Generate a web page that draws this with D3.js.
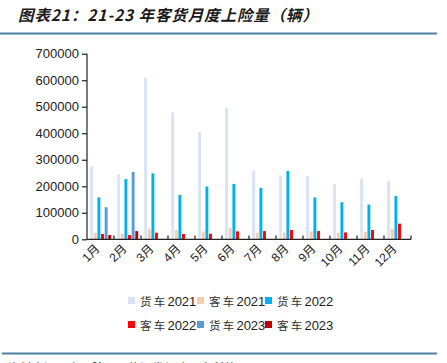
<!DOCTYPE html>
<html><head><meta charset="utf-8">
<script src="https://cdn.jsdelivr.net/npm/d3@7/dist/d3.min.js"></script>
<style>
html,body{margin:0;padding:0;background:#fff;}
svg{display:block;}
</style></head>
<body><svg id="c" width="447" height="363"></svg>
<script>
const months = ["1月","2月","3月","4月","5月","6月","7月","8月","9月","10月","11月","12月"];
const seriesNames = ["货车2021","客车2021","货车2022","客车2022","货车2023","客车2023"];
const truck2021 = [276000,245000,609000,478000,405000,495000,258000,239000,239000,209000,228000,221000];
const bus2021   = [25000,20000,39000,35000,30000,44000,25000,25000,29000,25000,29000,39000];
const truck2022 = [158000,227000,249000,167000,199000,209000,194000,258000,158000,140000,131000,163000];
const bus2022   = [20000,16000,25000,20000,21000,30000,31000,35000,31000,26000,35000,59000];
const truck2023 = [121000,254000,null,null,null,null,null,null,null,null,null,null];
const bus2023   = [16000,31000,null,null,null,null,null,null,null,null,null,null];
const yTicks = [0,100000,200000,300000,400000,500000,600000,700000];
const colors = ["#dae3f3","#f8cbad","#00b0f0","#ff0000","#5b9bd5","#c00000"];
const seriesValues = [truck2021,bus2021,truck2022,bus2022,truck2023,bus2023];

const svg = d3.select("#c");
const font = "'Liberation Sans', Arial, 'Noto Sans CJK SC', sans-serif";

// Title
svg.append("text").attr("x",18).attr("y",21)
  .attr("font-family","'Noto Sans CJK SC', sans-serif")
  .attr("font-size",15.5).attr("font-weight","bold").attr("font-style","italic")
  .attr("letter-spacing",0.9)
  .attr("fill","#1a1a1a")
  .text("图表21：21-23 年客货月度上险量（辆）");
svg.append("line").attr("x1",0).attr("x2",437).attr("y1",33.5).attr("y2",33.5)
  .attr("stroke","#4f7fa0").attr("stroke-width",2);

// Scales
const y = d3.scaleLinear().domain([0,700000]).range([239.3,53.7]);
const x0 = d3.scaleBand().domain(months).range([87,411]).paddingInner(0).paddingOuter(0);
const x1 = d3.scaleBand().domain(seriesNames).range([3.2,24.2]).paddingInner(0.2).paddingOuter(0);

// Bars
const g = svg.append("g");
seriesValues.forEach((vals,si)=>{
  g.selectAll(null).data(vals.map((v,i)=>({m:months[i],v})).filter(d=>d.v!=null))
   .enter().append("rect")
   .attr("x",d=>x0(d.m)+x1(seriesNames[si]))
   .attr("width",x1.bandwidth())
   .attr("y",d=>y(d.v))
   .attr("height",d=>y(0)-y(d.v))
   .attr("fill",colors[si]);
});

// Y axis
const yAxis = d3.axisLeft(y).tickValues(yTicks).tickSize(5).tickFormat(d3.format("d"));
const ya = svg.append("g").attr("transform","translate(87,0)").call(yAxis);
ya.select(".domain").attr("stroke","#222").attr("stroke-width",1.2).attr("d","M0,53.7V239.3");
ya.selectAll(".tick line").attr("stroke","#222").attr("stroke-width",1.2);
ya.selectAll(".tick text").attr("font-family",font).attr("font-size",13).attr("fill","#222").attr("x",-8);

// X axis line
svg.append("line").attr("x1",87).attr("x2",411).attr("y1",239.3).attr("y2",239.3)
  .attr("stroke","#222").attr("stroke-width",1.3);
// boundary ticks (upward)
const bounds = months.map(m=>x0(m)).concat([411]);
svg.selectAll(null).data(bounds.slice(1)).enter().append("line")
  .attr("x1",d=>d).attr("x2",d=>d).attr("y1",235.5).attr("y2",239.3)
  .attr("stroke","#222").attr("stroke-width",1.2);

// X labels rotated
svg.selectAll(null).data(months).enter().append("text")
  .attr("transform",d=>`translate(${x0(d)+x0.bandwidth()/2},${249.5}) rotate(-45)`)
  .attr("text-anchor","end")
  .attr("font-family",font).attr("font-size",12).attr("fill","#222")
  .text(d=>d);

// Legend
const legX = [128,197,265];
const legY = [301,325];
seriesNames.forEach((name,i)=>{
  const lx = legX[i%3], ly = legY[Math.floor(i/3)];
  svg.append("rect").attr("x",lx).attr("y",ly-4).attr("width",7).attr("height",7).attr("fill",colors[i]);
  const t = svg.append("text").attr("x",lx+12).attr("y",ly+5)
    .attr("font-family",font).attr("font-size",13).attr("fill","#222");
  t.append("tspan").attr("letter-spacing",2.2).attr("font-size",11.5).attr("fill","#333").text(name.slice(0,2));
  t.append("tspan").text(name.slice(2));
});

// Bottom rule and source (cut off by the frame, as in the reference)
svg.append("line").attr("x1",2).attr("x2",437).attr("y1",353.5).attr("y2",353.5)
  .attr("stroke","#4f7fa0").attr("stroke-width",2);
svg.append("text").attr("x",8).attr("y",372.5)
  .attr("font-family","'Noto Sans CJK SC', sans-serif").attr("font-size",12).attr("fill","#333")
  .text("资料来源：交强险，国信证券经济研究所整理");
</script>
</body></html>
